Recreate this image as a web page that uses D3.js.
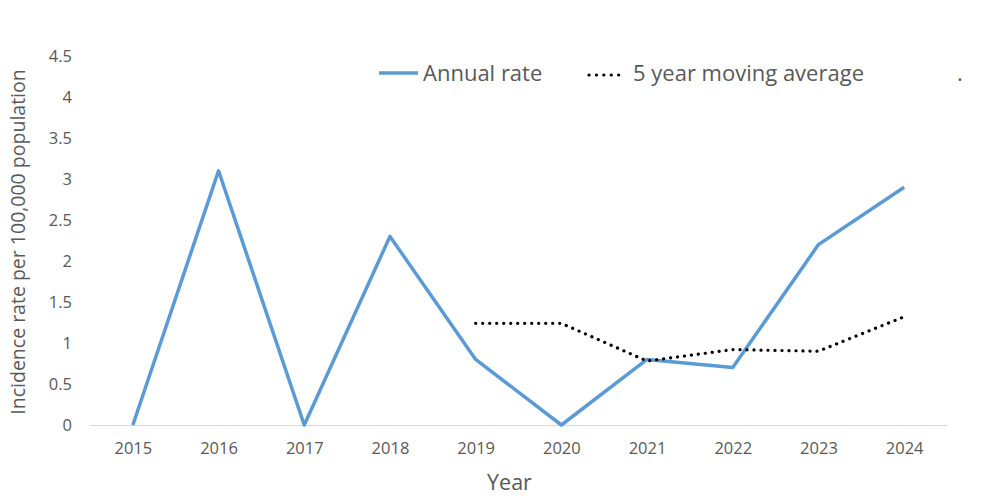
<!DOCTYPE html>
<html>
<head>
<meta charset="utf-8">
<script src="https://cdn.jsdelivr.net/npm/d3@7"></script>
<style>
	body { margin: 0; background: #fff; }
	text { font-family: "Open Sans", sans-serif; fill: #595959; }
</style>
</head>
<body>
<svg id="chart" width="1000" height="499"></svg>
<script>
// data
var years = ["2015", "2016", "2017", "2018", "2019", "2020", "2021", "2022", "2023", "2024"];
var annualRate = [0, 3.1, 0, 2.3, 0.8, 0, 0.8, 0.7, 2.2, 2.9];
var movingAvg = [null, null, null, null, 1.24, 1.24, 0.78, 0.92, 0.9, 1.32];
var yTicks = [0, 0.5, 1, 1.5, 2, 2.5, 3, 3.5, 4, 4.5];

var svg = d3.select("#chart"),
	margin = {top: 56, right: 53, bottom: 74, left: 90},
	width = +svg.attr("width") - margin.left - margin.right,
	height = +svg.attr("height") - margin.top - margin.bottom,
	g = svg.append("g").attr("transform", "translate(" + margin.left + "," + margin.top + ")");

var x = d3.scalePoint()
	.domain(years)
	.range([0, width])
	.padding(0.5);

var y = d3.scaleLinear()
	.domain([0, 4.5])
	.range([height, 0]);

// x axis: baseline only, no ticks
var xAxis = g.append("g")
	.attr("font-size", 16.5)
	.attr("font-family", null)
	.attr("transform", "translate(0," + height + ")")
	.call(d3.axisBottom(x).tickSize(0).tickPadding(17));
xAxis.attr("font-size", 16.5).attr("font-family", null);
xAxis.select(".domain").attr("stroke", "#d9d9d9").attr("stroke-width", 1.2);

// y axis: labels only
var yAxis = g.append("g")
	.call(d3.axisLeft(y).tickValues(yTicks).tickSize(0).tickPadding(18)
		.tickFormat(function(d) { return String(d); }));
yAxis.attr("font-size", 16.5).attr("font-family", null);
yAxis.select(".domain").remove();

// lines
var line = d3.line()
	.defined(function(d) { return d.value != null; })
	.x(function(d) { return x(d.year); })
	.y(function(d) { return y(d.value); });

var annualData = years.map(function(yr, i) { return {year: yr, value: annualRate[i]}; });
var avgData = years.map(function(yr, i) { return {year: yr, value: movingAvg[i]}; });

g.append("path")
	.datum(annualData)
	.attr("fill", "none")
	.attr("stroke", "#5b9bd5")
	.attr("stroke-width", 3.5)
	.attr("stroke-linejoin", "round")
	.attr("d", line);

g.append("path")
	.datum(avgData)
	.attr("fill", "none")
	.attr("stroke", "#000")
	.attr("stroke-width", 3.2)
	.attr("stroke-linecap", "round")
	.attr("stroke-dasharray", "0.1,6.9")
	.attr("d", line);

// axis titles
svg.append("text")
	.attr("x", margin.left + width / 2 - 9)
	.attr("y", 490)
	.attr("text-anchor", "middle")
	.attr("font-size", 21.5)
	.text("Year");

svg.append("text")
	.attr("transform", "translate(25," + 242 + ") rotate(-90)")
	.attr("text-anchor", "middle")
	.attr("font-size", 19.5)
	.text("Incidence rate per 100,000 population");

// legend
var legend = svg.append("g").attr("font-size", 22);

legend.append("line")
	.attr("x1", 379).attr("x2", 418)
	.attr("y1", 73).attr("y2", 73)
	.attr("stroke", "#5b9bd5")
	.attr("stroke-width", 3.5);
legend.append("text")
	.attr("x", 423).attr("y", 81)
	.text("Annual rate");

legend.append("line")
	.attr("x1", 589).attr("x2", 626)
	.attr("y1", 75).attr("y2", 75)
	.attr("stroke", "#000")
	.attr("stroke-width", 3.2)
	.attr("stroke-linecap", "round")
	.attr("stroke-dasharray", "0.1,7.3");
legend.append("text")
	.attr("x", 633).attr("y", 81)
	.text("5 year moving average");

legend.append("text")
	.attr("x", 957).attr("y", 81)
	.text(".");
</script>
</body>
</html>
